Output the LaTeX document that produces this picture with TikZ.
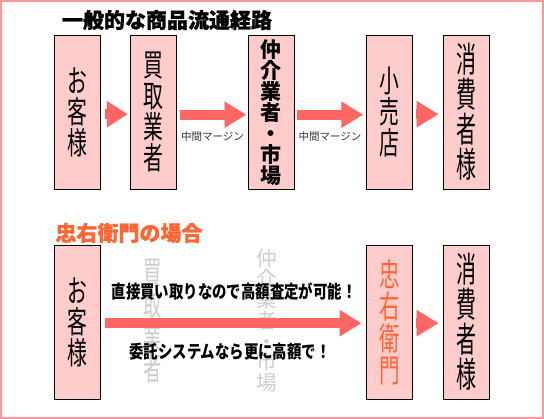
\documentclass[tikz,border=0pt]{standalone}
\usepackage{fontspec}
\usetikzlibrary{arrows.meta}
\newfontfamily\jp{Noto Sans CJK JP}
\newfontfamily\jpc[FakeStretch=0.64]{Noto Sans CJK JP}
\newfontfamily\jpcc[FakeStretch=0.57]{Noto Sans CJK JP}
\newfontfamily\jpm[FakeStretch=0.8]{Noto Sans CJK JP}
\newfontfamily\jpt[FakeBold=1.2]{Noto Sans CJK JP}
\definecolor{frame}{RGB}{255,153,153}
\definecolor{boxfill}{RGB}{255,204,204}
\definecolor{arrowc}{RGB}{255,102,102}
\definecolor{orangec}{RGB}{255,102,51}
\definecolor{ghost}{RGB}{205,205,205}
\tikzset{
  box/.style={draw=black, line width=1.2pt, fill=boxfill, minimum width=46pt, minimum height=154pt, inner sep=0pt, align=center},
  bigtxt/.style={font=\jpc\fontsize{31}{31}\selectfont},
  hugetxt/.style={font=\jpcc\fontsize{35}{35}\selectfont},
  densetxt/.style={font=\jp\bfseries\fontsize{21}{21}\selectfont},
  flow/.style={draw=arrowc, line width=10pt, -{Triangle[length=22pt,width=25pt]}},
  note/.style={font=\jp\fontsize{10.5}{11}\selectfont, text=black!80},
  title/.style={font=\jpt\bfseries\fontsize{21}{21}\selectfont},
  claim/.style={font=\jpm\bfseries\fontsize{18}{18}\selectfont}
}
\begin{document}
\begin{tikzpicture}[x=1pt,y=-1pt]
\useasboundingbox (0,0) rectangle (544,419);
\draw[frame, line width=2pt] (1,1) rectangle (543,418);

% titles
\node[title] (t1) at (167,20) {一般的な商品流通経路};
\node[title, text=orangec] (t2) at (129,233) {忠右衛門の場合};

% top row
\node[box, bigtxt] (a1) at (77.3,112.2) {お\\客\\様};
\node[box, bigtxt] (a2) at (153.2,112.2) {買\\取\\業\\者};
\node[box, densetxt] (a3) at (271.4,112.2) {仲\\介\\業\\者\\・\\市\\場};
\node[box, bigtxt] (a4) at (389.5,112.2) {小\\売\\店};
\node[box, hugetxt] (a5) at (466.3,112.2) {消\\費\\者\\様};

\draw[flow, -{Triangle[length=21pt,width=25pt]}] ([xshift=4.4pt,yshift=-2pt]a1.east) -- ([xshift=-1.7pt,yshift=-2pt]a2.west);
\draw[flow] ([xshift=2.7pt,yshift=-2.5pt]a2.east) -- ([xshift=-1.3pt,yshift=-2.5pt]a3.west);
\draw[flow] ([xshift=2.3pt,yshift=-2.5pt]a3.east) -- ([xshift=-2.6pt,yshift=-2.5pt]a4.west);
\draw[flow] ([xshift=2.6pt,yshift=-2pt]a4.east) -- ([xshift=-4pt,yshift=-2pt]a5.west);

\node[note] (m1) at (212.5,136.7) {中間マージン};
\node[note] (m2) at (330,137) {中間マージン};

% bottom row
\node[font=\jpcc\fontsize{32}{32}\selectfont, text=ghost, align=center, inner sep=0pt] (g1) at (153,321.5) {買\\取\\業\\者};
\node[font=\jp\fontsize{20.7}{20.7}\selectfont, text=ghost, align=center, inner sep=0pt] (g2) at (266.7,320.5) {仲\\介\\業\\者\\・\\市\\場};

\node[box, bigtxt] (b1) at (77.3,322.2) {お\\客\\様};
\node[box, font=\jpc\fontsize{32}{32}\selectfont, text=orangec] (b2) at (389.5,322.2) {忠\\右\\衛\\門};
\node[box, hugetxt] (b3) at (466.3,322.2) {消\\費\\者\\様};

\draw[flow] ([xshift=3.7pt,yshift=-1pt]b1.east) -- ([xshift=-4.3pt,yshift=-1pt]b2.west);
\draw[flow] ([xshift=2.4pt,yshift=-1pt]b2.east) -- ([xshift=-4pt,yshift=-1pt]b3.west);

\node[claim] (c1) at (234,291.7) {直接買い取りなので高額査定が可能！};
\node[claim] (c2) at (230,351.7) {委託システムなら更に高額で！};
\end{tikzpicture}
\end{document}
